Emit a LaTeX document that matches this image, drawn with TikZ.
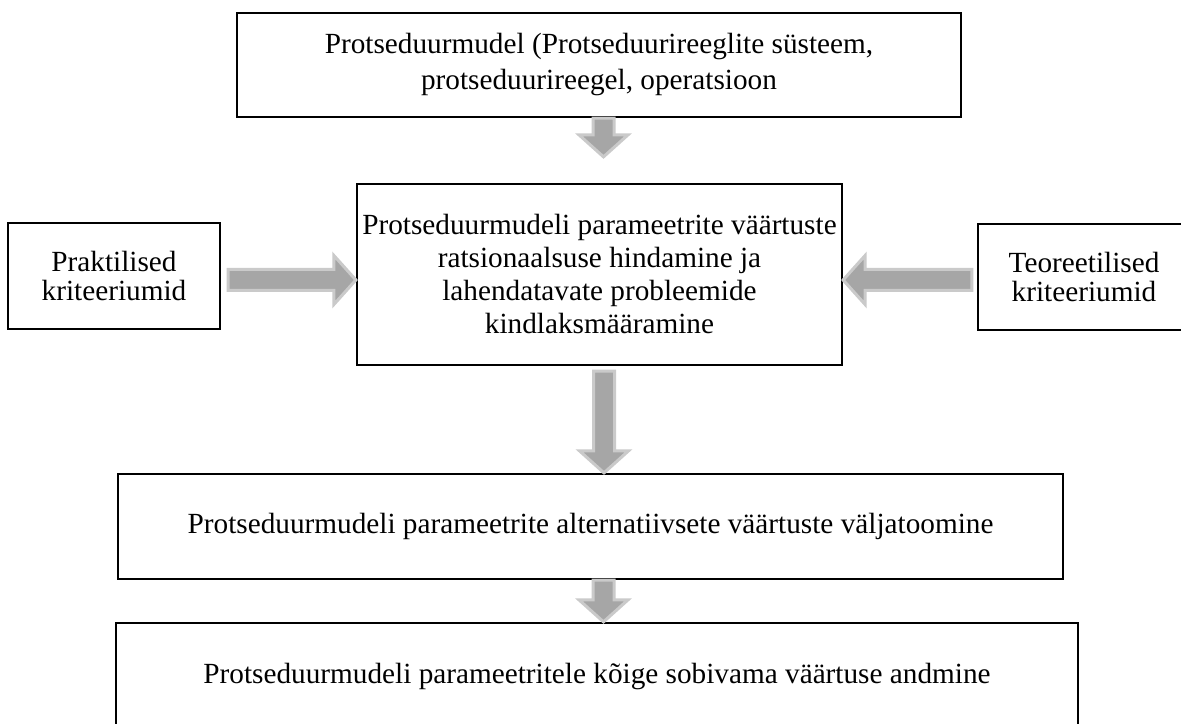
\documentclass[tikz,border=0pt]{standalone}
\usepackage{fontspec}
\setmainfont{Liberation Serif}
\usetikzlibrary{calc}
\definecolor{ArrowFill}{HTML}{A6A6A6}
\definecolor{ArrowEdge}{HTML}{CACACA}
\tikzset{
 box/.style={draw=black, line width=0.9pt, align=center, inner sep=2pt, font=\fontsize{11.7}{13.2}\selectfont},
 sidebox/.style={box, minimum width=84.8pt, minimum height=42.4pt, font=\fontsize{11.7}{11.6}\selectfont},
 blockarrow/.style={draw=ArrowEdge, fill=ArrowFill, line width=1.2pt, line join=miter}
}
% grey block arrow from #1 to the tip #2
\newcommand{\blockarrow}[2]{%
 \coordinate (hb) at ($(#2)!8.8pt!(#1)$);
 \draw[blockarrow] ($(#1)!4.2pt!90:(#2)$) -- ($(hb)!4.2pt!90:(#2)$) -- ($(hb)!9.8pt!90:(#2)$) -- (#2)
   -- ($(hb)!9.8pt!-90:(#2)$) -- ($(hb)!4.2pt!-90:(#2)$) -- ($(#1)!4.2pt!-90:(#2)$) -- cycle;}

\begin{document}
\begin{tikzpicture}[x=0.4pt, y=-0.4pt]
\useasboundingbox (0,0) rectangle (1181,724);

\node[box, minimum width=289.6pt, minimum height=41.6pt, font=\fontsize{11.7}{14.4}\selectfont] (model) at (599,65)
 {Protseduurmudel (Protseduurireeglite süsteem,\\protseduurireegel, operatsioon};
\node[box, minimum width=194pt, minimum height=72.4pt] (rate) at (599.5,274.5)
 {Protseduurmudeli parameetrite väärtuste\\ratsionaalsuse hindamine ja\\lahendatavate probleemide\\kindlaksmääramine};
\node[sidebox] (practical) at (114,276) {Praktilised\\kriteeriumid};
\node[sidebox] (theory) at (1084,277) {Teoreetilised\\kriteeriumid};
\node[box, minimum width=378pt, minimum height=42pt] (alt) at (590.5,526.5)
 {Protseduurmudeli parameetrite alternatiivsete väärtuste väljatoomine};
\node[box, minimum width=384.8pt, minimum height=43.2pt] (best) at (597,677)
 {Protseduurmudeli parameetritele kõige sobivama väärtuse andmine};

% arrow ends
\coordinate (a1s) at ($(model.south)+(4.5,0)$);
\coordinate (a1e) at ($(rate.north)+(4,-26)$);
\coordinate (a2s) at ($(rate.south)+(4.5,5)$);
\coordinate (a2e) at (a2s |- alt.north);
\coordinate (a3s) at ($(alt.south)+(13,0)$);
\coordinate (a3e) at (a3s |- best.north);
\coordinate (a4s) at ($(practical.east)+(7,4)$);
\coordinate (a4e) at (a4s -| rate.west);
\coordinate (a5s) at ($(theory.west)+(-5,3)$);
\coordinate (a5e) at (a5s -| rate.east);

\blockarrow{a1s}{a1e}
\blockarrow{a2s}{a2e}
\blockarrow{a3s}{a3e}
\blockarrow{a4s}{a4e}
\blockarrow{a5s}{a5e}
\end{tikzpicture}
\end{document}
